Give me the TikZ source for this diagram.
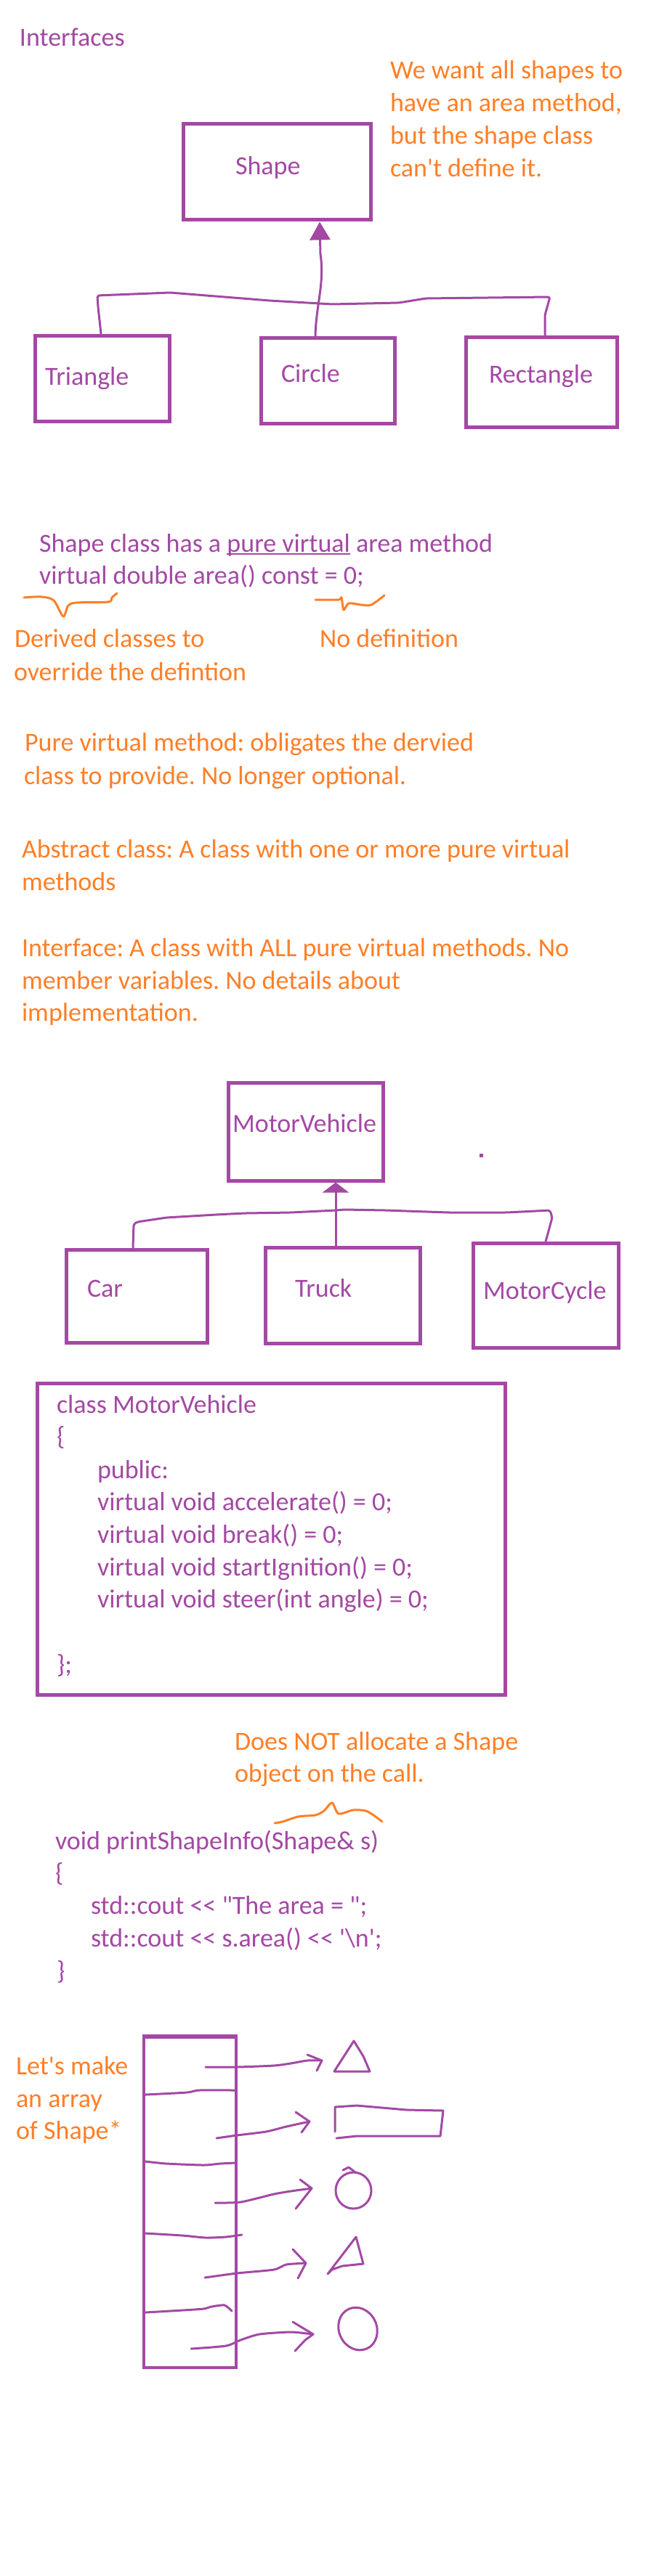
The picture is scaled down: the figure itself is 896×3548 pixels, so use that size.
\documentclass[tikz,border=0pt]{standalone}
\usepackage{fontspec}
\setmainfont{Carlito}[Ligatures=TeXOff]
\usetikzlibrary{arrows.meta}
\definecolor{pur}{RGB}{163,73,164}
\definecolor{org}{RGB}{255,127,39}
\newcommand{\ulpv}[1]{\setbox0\hbox{#1}\rlap{\rule[-4pt]{\wd0}{2pt}}\box0\relax}
\frenchspacing
\begin{document}
\begin{tikzpicture}[x=1pt,y=-1pt,
  txt/.style={anchor=base west, inner sep=0pt, outer sep=0pt, font=\fontsize{36}{45}\selectfont\frenchspacing},
  ptxt/.style={txt, text=pur},
  otxt/.style={txt, text=org},
  box/.style={draw=pur, line width=5pt, inner sep=0pt},
  pen/.style={draw=pur, line width=3pt, line cap=round, line join=round},
  opn/.style={draw=org, line width=3pt, line cap=round, line join=round}]
\useasboundingbox[fill=white] (0,0) rectangle (896,3548);

% ---------- Shape hierarchy ----------
\node[ptxt] (interfaces) at (27,64) {Interfaces};
\node[otxt] (want1) at (537,109) {We want all shapes to};
\node[otxt] (want2) at (537,154) {have an area method,};
\node[otxt] (want3) at (537,199) {but the shape class};
\node[otxt] (want4) at (537,244) {can't define it.};

\node[box, minimum width=258pt, minimum height=132pt] (shape) at (381,237) {};
\node[box, minimum width=185pt, minimum height=118pt] (tri) at (140.5,521) {};
\node[box, minimum width=184pt, minimum height=118pt] (circ) at (451,524) {};
\node[box, minimum width=208pt, minimum height=124pt] (rect) at (745,526) {};
\node[ptxt] (shapelbl) at (324,241) {Shape};
\node[ptxt] (trilbl) at (62,530) {Triangle};
\node[ptxt] (circlbl) at (387,526) {Circle};
\node[ptxt] (rectlbl) at (673,527) {Rectangle};

\coordinate (stemx) at (440,0);
\draw[pen, rounded corners=3pt] ([xshift=-1.5pt]tri.north) -- (135,423) -- (134,407) -- (234,403) -- (371,414) -- (457,419) -- (549,417) -- (586,411) -- (757,409) -- (750,434) -- ([xshift=5pt]rect.north);
\draw[pen, -{Triangle[length=25pt,width=28pt]}] ([xshift=-17pt]circ.north) .. controls (435,420) and (447,390) .. (441,350) -- (shape.south -| stemx);

% ---------- pure virtual ----------
\node[ptxt] (pv1) at (54,760) {Shape class has a \ulpv{pure virtual} area method};
\node[ptxt] (pv2) at (54,804) {virtual double area() const = 0;};
\draw[opn] plot[smooth, tension=0.5] coordinates {(33,823) (57,822) (74,827) (87,849) (94,834) (106,830) (149,829) (154,823) (161,817)};
\draw[opn] plot[smooth, tension=0.5] coordinates {(434,826) (466,826) (470,823) (473,840) (480,831) (497,833) (511,833) (529,820)};
\node[otxt] (der1) at (20,891) {Derived classes to};
\node[otxt] (der2) at (19,937) {override the defintion};
\node[otxt] (nodef) at (440,891) {No definition};

\node[otxt] (pvm1) at (34,1034) {Pure virtual method: obligates the dervied};
\node[otxt] (pvm2) at (33,1080) {class to provide. No longer optional.};
\node[otxt] (abs1) at (30,1181) {Abstract class: A class with one or more pure virtual};
\node[otxt] (abs2) at (30,1226) {methods};
\node[otxt] (int1) at (30,1317) {Interface: A class with ALL pure virtual methods. No};
\node[otxt] (int2) at (30,1362) {member variables. No details about};
\node[otxt] (int3) at (30,1406) {implementation.};

% ---------- MotorVehicle hierarchy ----------
\node[box, minimum width=213pt, minimum height=135pt] (mv) at (420.5,1558.5) {};
\node[box, minimum width=194pt, minimum height=128pt] (car) at (188,1785) {};
\node[box, minimum width=213pt, minimum height=132pt] (truck) at (471.5,1784) {};
\node[box, minimum width=200pt, minimum height=144pt] (mc) at (751,1784) {};
\node[ptxt] (mvlbl) at (320,1559) {MotorVehicle};
\node[ptxt] (carlbl) at (120,1786) {Car};
\node[ptxt] (trucklbl) at (406,1786) {Truck};
\node[ptxt] (mclbl) at (665,1789) {MotorCycle};
\fill[pur] (660,1589) rectangle (665,1594);

\coordinate (mvx) at (462,0);
\draw[pen, rounded corners=3pt] ([xshift=-5pt]car.north) -- (184,1686) -- (189,1683) -- (229,1677) -- (297,1673) -- (337,1671) -- (400,1670) -- (462,1667) -- (474,1666) -- (531,1667) -- (617,1670) -- (697,1670) -- (757,1667) -- (760,1677) -- (753,1703) -- (mc.north);
\draw[pen, -{Triangle[length=14pt,width=36pt]}] ([xshift=-9.5pt]truck.north) -- (mv.south -| mvx);

% ---------- class code ----------
\node[box, minimum width=644pt, minimum height=429pt] (cls) at (373,2119.5) {};
\node[ptxt] (c1) at (78,1946) {class MotorVehicle};
\node[ptxt] (c2) at (78,1990) {\{};
\node[ptxt] (c3) at (134,2036) {public:};
\node[ptxt] (c4) at (134,2080) {virtual void accelerate() = 0;};
\node[ptxt] (c5) at (134,2125) {virtual void break() = 0;};
\node[ptxt] (c6) at (134,2170) {virtual void startIgnition() = 0;};
\node[ptxt] (c7) at (134,2214) {virtual void steer(int angle) = 0;};
\node[ptxt] (c8) at (78,2304) {\};};

% ---------- printShapeInfo ----------
\node[otxt] (alloc1) at (323,2410) {Does NOT allocate a Shape};
\node[otxt] (alloc2) at (323,2454) {object on the call.};
\draw[opn] plot[smooth, tension=0.5] coordinates {(378,2511) (389,2509) (411,2502) (434,2500) (446,2494) (457,2483) (466,2498) (486,2493) (503,2494) (514,2500) (526,2509)};
\node[ptxt] (f1) at (76,2547) {void printShapeInfo(Shape\& s)};
\node[ptxt] (f2) at (76,2591) {\{};
\node[ptxt] (f3) at (125,2636) {std::cout << "The area = ";};
\node[ptxt] (f4) at (125,2681) {std::cout << s.area() << '\textbackslash n';};
\node[ptxt] (f5) at (78,2726) {\}};

% ---------- array of Shape* ----------
\node[otxt] (arr1) at (22,2857) {Let's make};
\node[otxt] (arr2) at (22,2902) {an array};
\node[otxt] (arr3) at (22,2946) {of Shape*};
\node[draw=pur, line width=3.5pt, inner sep=0pt, minimum width=127pt, minimum height=455pt] (arr) at (261.5,3033.5) {};
\draw[pur, line width=5pt] (arr.north west) -- (arr.north east);

\draw[pen] plot[smooth, tension=0.4] coordinates {(200,2885) (257,2882) (274,2879) (323,2879)};
\draw[pen] plot[smooth, tension=0.4] coordinates {(200,2977) (229,2980) (280,2982) (303,2980) (323,2979)};
\draw[pen] plot[smooth, tension=0.4] coordinates {(200,3076) (251,3079) (283,3082) (311,3081) (333,3078)};
\draw[pen] plot[smooth, tension=0.4] coordinates {(200,3185) (251,3182) (280,3180) (291,3177) (309,3175) (319,3183)};

% pointers
\coordinate (s1) at (283,2847); \coordinate (e1) at (443,2838);
\coordinate (s2) at (298,2945); \coordinate (e2) at (426,2922);
\coordinate (s3) at (296,3034); \coordinate (e3) at (429,3014);
\coordinate (s4) at (282,3137); \coordinate (e4) at (421,3117);
\coordinate (s5) at (263,3235); \coordinate (e5) at (431,3215);
\draw[pen] plot[smooth, tension=0.4] coordinates {(s1) (326,2847) (377,2845) (400,2842) (423,2838) (e1)};
\draw[pen] (423,2830) -- (e1) -- (436,2852);
\draw[pen] plot[smooth, tension=0.4] coordinates {(s2) (326,2941) (366,2936) (394,2929) (e2)};
\draw[pen] (407,2909) -- (e2) -- (415,2937);
\draw[pen] plot[smooth, tension=0.4] coordinates {(s3) (331,3033) (377,3022) (400,3018) (e3)};
\draw[pen] (413,3002) -- (e3) -- (407,3042);
\draw[pen] plot[smooth, tension=0.4] coordinates {(s4) (326,3131) (377,3126) (394,3119) (e4)};
\draw[pen] (403,3098) -- (e4) -- (410,3138);
\draw[pen] plot[smooth, tension=0.4] coordinates {(s5) (311,3231) (331,3223) (357,3215) (400,3212) (e5)};
\draw[pen] (403,3198) -- (e5) -- (420,3223) -- (406,3238);

% hand-drawn shapes
\draw[pen] (487,2811) -- (460,2853) -- (509,2853) -- (500,2832) -- cycle;
\draw[pen] (463,2945) -- (491,2942) -- (606,2942) -- (610,2907) -- (560,2906) -- (491,2900) -- (461,2902) -- (461,2936);
\draw[pen] (486.5,3017) ellipse [x radius=24.5, y radius=25];
\draw[pen] (472,2989) -- (480,2985) -- (489,2992);
\draw[pen] (490,3081) -- (500,3118) -- (471,3121) -- (457,3126) -- (451,3132) -- cycle;
\draw[pen, rotate around={25:(492.5,3207.5)}] (492.5,3207.5) ellipse [x radius=26, y radius=30];
\end{tikzpicture}
\end{document}
